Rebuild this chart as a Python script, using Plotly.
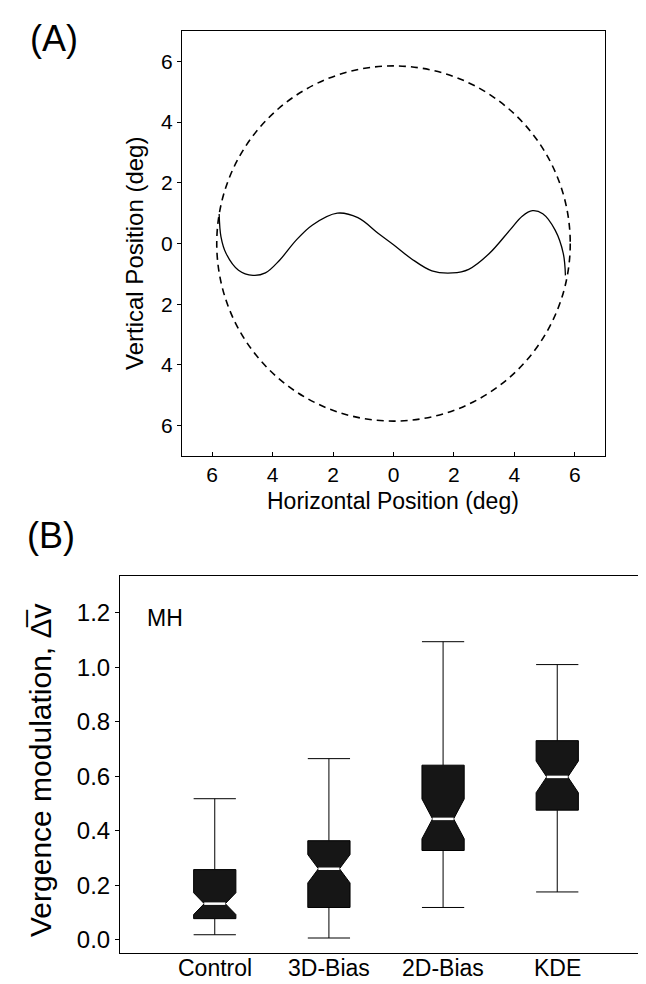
import plotly.graph_objects as go

# ---------------- Panel A data ----------------
trace_x = [-5.77, -5.71, -5.54, -5.13, -4.65, -4.24, -3.77, -3.22, -2.68, -1.86, -1.18, -0.50, 0.0,
           0.59, 1.27, 1.95, 2.49, 3.17, 3.85, 4.26, 4.60, 4.94, 5.35, 5.62, 5.69]
trace_y = [0.97, 0.22, -0.33, -0.88, -1.05, -0.97, -0.55, 0.11, 0.61, 1.0, 0.85, 0.33, -0.04,
           -0.50, -0.90, -0.97, -0.85, -0.33, 0.44, 0.90, 1.08, 0.98, 0.44, -0.33, -1.05]
circle_radius = 5.85
a_tickvals = [-6, -4, -2, 0, 2, 4, 6]
a_ticktext = ["6", "4", "2", "0", "2", "4", "6"]

# ---------------- Panel B data ----------------
categories = ["Control", "3D-Bias", "2D-Bias", "KDE"]
lower_fence = [0.019, 0.007, 0.119, 0.176]
q1_vals = [0.078, 0.119, 0.328, 0.476]
median_vals = [0.133, 0.261, 0.444, 0.598]
q3_vals = [0.258, 0.364, 0.641, 0.731]
upper_fence = [0.518, 0.665, 1.094, 1.010]
notch_span = [0.040, 0.052, 0.073, 0.058]
b_tickvals = [0.0, 0.2, 0.4, 0.6, 0.8, 1.0, 1.2]
b_ticktext = ["0.0", "0.2", "0.4", "0.6", "0.8", "1.0", "1.2"]

FONT = "Liberation Sans, Arial, Helvetica, sans-serif"
W, H = 646, 984
BOX_W = 0.37
NOTCH_W = 0.25

def px_x(p):
    return p / W

def px_y(p):
    return 1 - p / H

fig = go.Figure()

# Panel A curve
fig.add_trace(go.Scatter(x=trace_x, y=trace_y, mode="lines",
                         line=dict(color="black", width=1.3, shape="spline", smoothing=1.0),
                         xaxis="x", yaxis="y", showlegend=False, hoverinfo="skip"))

fig.add_shape(type="circle", xref="x", yref="y",
              x0=-circle_radius, x1=circle_radius, y0=-circle_radius, y1=circle_radius,
              line=dict(color="black", width=1.6, dash="7px,5px"))

# Panel B boxes
xpos = list(range(len(categories)))
fig.add_trace(go.Box(x=xpos, q1=q1_vals, median=median_vals, q3=q3_vals,
                     lowerfence=lower_fence, upperfence=upper_fence,
                     notchspan=notch_span, notched=True, notchwidth=NOTCH_W,
                     width=BOX_W, whiskerwidth=1, boxpoints=False,
                     fillcolor="#161616", line=dict(color="black", width=1),
                     xaxis="x2", yaxis="y2", showlegend=False, hoverinfo="skip"))

# white median lines
half = BOX_W / 2 * (1 - 2 * NOTCH_W)
mx, my = [], []
for i, m in zip(xpos, median_vals):
    mx += [i - half, i + half, None]
    my += [m, m, None]
fig.add_trace(go.Scatter(x=mx, y=my, mode="lines", line=dict(color="white", width=2.5),
                         xaxis="x2", yaxis="y2", showlegend=False, hoverinfo="skip"))

axis_common = dict(showline=True, linecolor="black", linewidth=1, mirror=True,
                   showgrid=False, zeroline=False, ticklen=4, tickcolor="black", tickwidth=1)

fig.update_layout(
    width=W, height=H,
    margin=dict(l=0, r=0, t=0, b=0),
    paper_bgcolor="white", plot_bgcolor="white",
    font=dict(family=FONT, color="black"),
    xaxis=dict(domain=[px_x(174), px_x(597)], range=[-7, 7], anchor="y",
               tickvals=a_tickvals, ticktext=a_ticktext, ticks="inside",
               tickfont=dict(size=21, family=FONT), **axis_common),
    yaxis=dict(domain=[px_y(448), px_y(23)], range=[-7, 7], anchor="x",
               tickvals=a_tickvals, ticktext=a_ticktext, ticks="outside",
               tickfont=dict(size=21, family=FONT), **axis_common),
    xaxis2=dict(domain=[px_x(112), px_x(644)], range=[-0.83, 3.83], anchor="y2",
                tickvals=xpos, showticklabels=False, ticks="", **axis_common),
    yaxis2=dict(domain=[px_y(945), px_y(568)], range=[-0.048, 1.335], anchor="x2",
                tickvals=b_tickvals, ticktext=b_ticktext, ticks="outside",
                tickfont=dict(size=24, family=FONT), **axis_common),
)

ann = [
    dict(text="(A)", x=px_x(20), y=px_y(30), xref="paper", yref="paper",
         xanchor="left", yanchor="middle", showarrow=False, font=dict(size=36, family=FONT)),
    dict(text="(B)", x=px_x(17), y=px_y(527), xref="paper", yref="paper",
         xanchor="left", yanchor="middle", showarrow=False, font=dict(size=36, family=FONT)),
    dict(text="Horizontal Position (deg)", x=px_x(385), y=px_y(493), xref="paper", yref="paper",
         xanchor="center", yanchor="middle", showarrow=False, font=dict(size=23, family=FONT)),
    dict(text="Vertical Position (deg)", x=px_x(126), y=px_y(246), xref="paper", yref="paper",
         xanchor="center", yanchor="middle", textangle=-90, showarrow=False,
         font=dict(size=24, family=FONT)),
    dict(text="Vergence modulation, \u0394\u0305v", x=px_x(32), y=px_y(762), xref="paper", yref="paper",
         xanchor="center", yanchor="middle", textangle=-90, showarrow=False,
         font=dict(size=30, family=FONT)),
    dict(text="MH", x=0.085, y=0.889, xref="x2 domain", yref="y2 domain",
         xanchor="center", yanchor="middle", showarrow=False, font=dict(size=23, family=FONT)),
]
# category labels under the boxes
for i, c in zip(xpos, categories):
    ann.append(dict(text=c, x=i, y=px_y(960), xref="x2", yref="paper",
                    xanchor="center", yanchor="middle", showarrow=False,
                    font=dict(size=23, family=FONT)))
fig.update_layout(annotations=ann)

fig.write_html("out.html")
